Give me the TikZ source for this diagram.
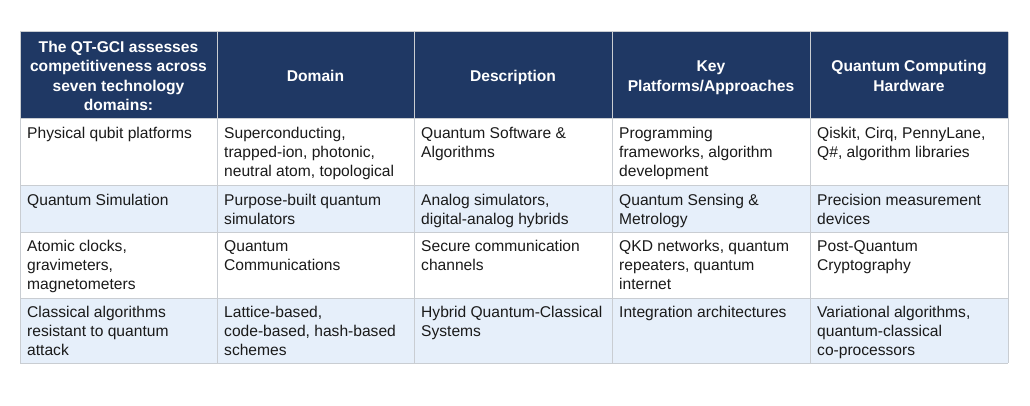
\documentclass[tikz,border=0pt]{standalone}
\usepackage{fontspec}
\setmainfont{Liberation Sans}
\definecolor{hdr}{HTML}{1F3864}
\definecolor{alt}{HTML}{E6EFFA}
\definecolor{gridc}{HTML}{C9CDD2}
\definecolor{txt}{HTML}{1A1A1A}
\tikzset{
  cell/.style={anchor=north west, inner sep=0pt, align=left, font=\fontsize{15.6}{19.3}\selectfont, text=txt},
  head/.style={anchor=center, inner sep=0pt, align=center, font=\fontsize{15.6}{19.5}\selectfont\bfseries, text=white},
  gridline/.style={draw=gridc, line width=1pt},
}
\newcommand{\hs}{\strut}
\begin{document}
\begin{tikzpicture}[x=1pt,y=-1pt]
\useasboundingbox (0,0) rectangle (1030,406);
\fill[white] (0,0) rectangle (1030,406);
% backgrounds
\fill[hdr] (20,32) rectangle (1008,119);
\fill[alt] (20,186) rectangle (1008,232);
\fill[alt] (20,298) rectangle (1008,363);
% grid
\foreach \yy in {32,119,186,232,298,363} \draw[gridline] (20,\yy) -- (1008,\yy);
\foreach \xx in {20,217,414,612,810,1008} \draw[gridline] (\xx,32) -- (\xx,363);
% header
\node[head] (h1) at (118.5,77.6) {\hs The QT-GCI assesses\\\hs competitiveness across\\\hs seven technology\\\hs domains:};
\node[head] (h2) at (315.5,77.6) {\hs Domain};
\node[head] (h3) at (513,77.6) {\hs Description};
\node[head] (h4) at (711,77.6) {\hs Key\\\hs Platforms/Approaches};
\node[head] (h5) at (909,77.6) {\hs Quantum Computing\\\hs Hardware};
% row 1 (top 119)
\node[cell] (a1) at (27,124.5) {\strut Physical qubit platforms};
\node[cell] (b1) at (224,124.5) {\strut Superconducting,\\trapped-ion, photonic,\\neutral atom, topological};
\node[cell] (c1) at (421,124.5) {\strut Quantum Software \&\\Algorithms};
\node[cell] (d1) at (619,124.5) {\strut Programming\\frameworks, algorithm\\development};
\node[cell] (e1) at (817,124.5) {\strut Qiskit, Cirq, PennyLane,\\Q\#, algorithm libraries};
% row 2 (top 186)
\node[cell] (a2) at (27,191.5) {\strut Quantum Simulation};
\node[cell] (b2) at (224,191.5) {\strut Purpose-built quantum\\simulators};
\node[cell] (c2) at (421,191.5) {\strut Analog simulators,\\digital-analog hybrids};
\node[cell] (d2) at (619,191.5) {\strut Quantum Sensing \&\\Metrology};
\node[cell] (e2) at (817,191.5) {\strut Precision measurement\\devices};
% row 3 (top 232)
\node[cell] (a3) at (27,237.5) {\strut Atomic clocks,\\gravimeters,\\magnetometers};
\node[cell] (b3) at (224,237.5) {\strut Quantum\\Communications};
\node[cell] (c3) at (421,237.5) {\strut Secure communication\\channels};
\node[cell] (d3) at (619,237.5) {\strut QKD networks, quantum\\repeaters, quantum\\internet};
\node[cell] (e3) at (817,237.5) {\strut Post-Quantum\\Cryptography};
% row 4 (top 298)
\node[cell] (a4) at (27,303.5) {\strut Classical algorithms\\resistant to quantum\\attack};
\node[cell] (b4) at (224,303.5) {\strut Lattice-based,\\code-based, hash-based\\schemes};
\node[cell] (c4) at (421,303.5) {\strut Hybrid Quantum-Classical\\Systems};
\node[cell] (d4) at (619,303.5) {\strut Integration architectures};
\node[cell] (e4) at (817,303.5) {\strut Variational algorithms,\\quantum-classical\\co-processors};
\end{tikzpicture}
\end{document}
